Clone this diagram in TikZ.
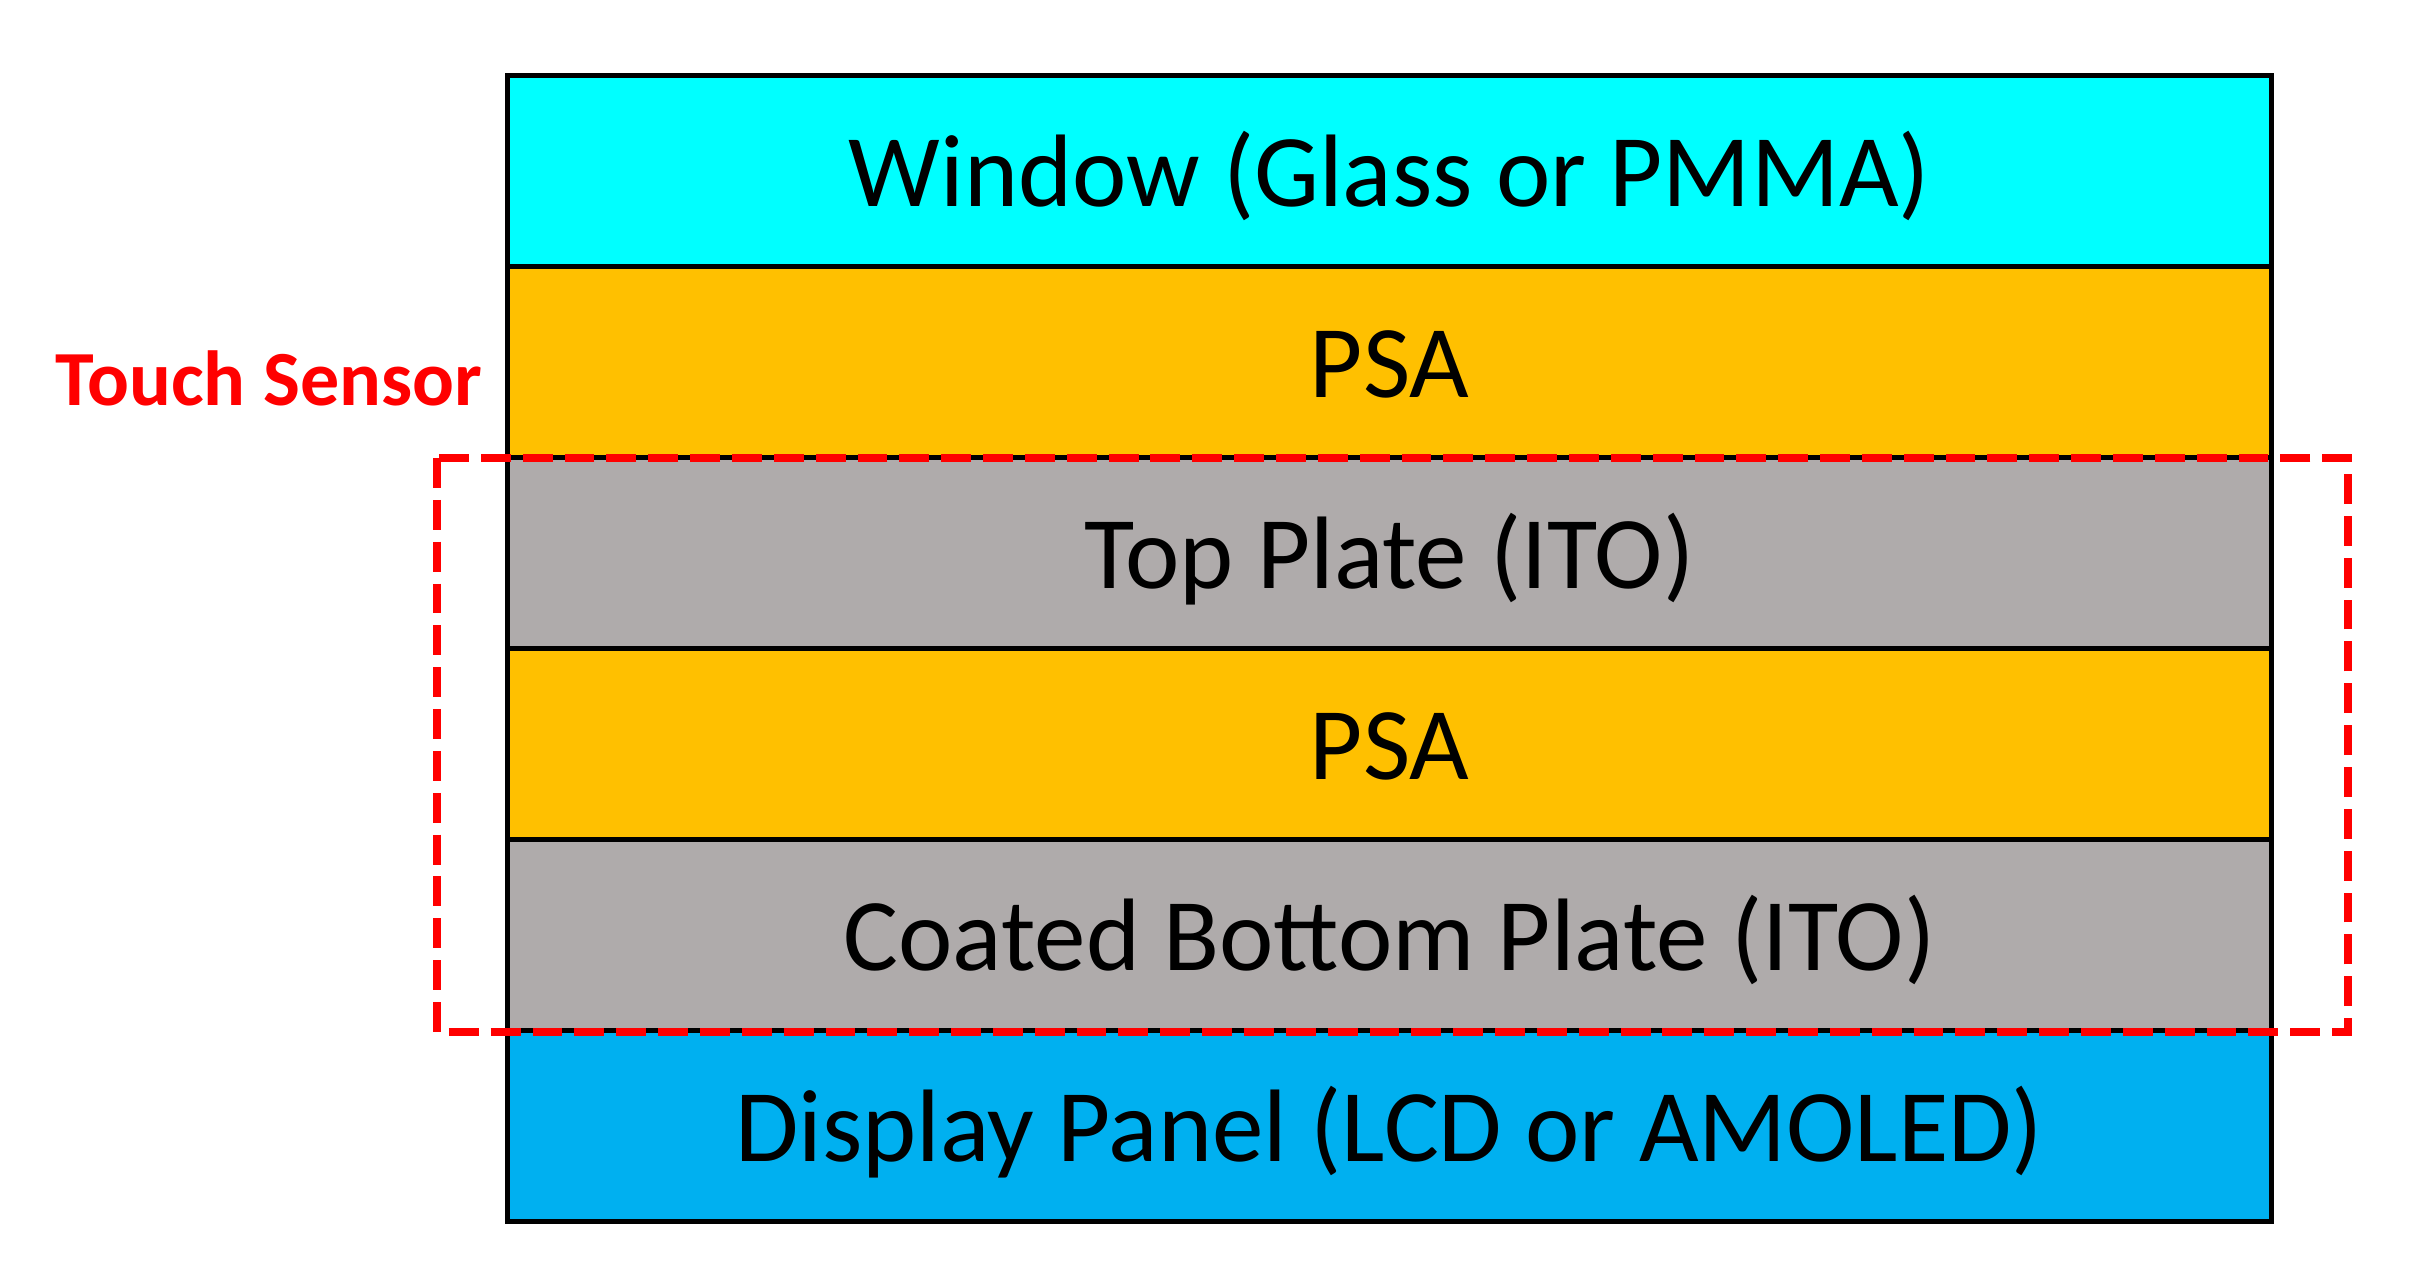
\documentclass[tikz,border=0pt]{standalone}
\usepackage{fontspec}
\setmainfont{Carlito}
\definecolor{wincyan}{RGB}{0,255,255}
\definecolor{psaorange}{RGB}{255,192,0}
\definecolor{itogray}{RGB}{175,171,171}
\definecolor{dispblue}{RGB}{0,176,240}
\definecolor{sensred}{RGB}{255,0,0}
\begin{document}
\begin{tikzpicture}[x=0.01cm,y=-0.01cm,
  layer/.style={draw=black, line width=1.4pt, minimum width=17.63cm, minimum height=1.908cm,
    inner sep=0pt, text height=0.71cm, text depth=0cm, font=\fontsize{29.3}{34}\selectfont, text=black},
  sensorbox/.style={draw=sensred, line width=2.5pt, dash pattern=on 8.5pt off 3.4pt, miter limit=10},
  sensorlabel/.style={text=sensred, font=\bfseries\fontsize{22.2}{26}\selectfont, inner sep=0pt}]
\useasboundingbox (0,0) rectangle (2427,1282);
\node[layer, fill=wincyan]    (win)  at (1389.5,171.4) {Window (Glass or PMMA)};
\node[layer, fill=psaorange]  (psa1) at (1389.5,362.2) {PSA};
\node[layer, fill=itogray]    (top)  at (1389.5,553.1) {Top Plate (ITO)};
\node[layer, fill=psaorange]  (psa2) at (1389.5,743.9) {PSA};
\node[layer, fill=itogray]    (bot)  at (1389.5,934.8) {Coated Bottom Plate (ITO)};
\node[layer, fill=dispblue]   (disp) at (1389.5,1125.6) {Display Panel (LCD or AMOLED)};
\coordinate (tsA) at (437,458);
\coordinate (tsB) at (2348,1032);
\draw[sensorbox] (tsA) rectangle (tsB);
\node[sensorlabel, anchor=base east] (ts) at (483,405) {Touch Sensor};
\end{tikzpicture}
\end{document}
